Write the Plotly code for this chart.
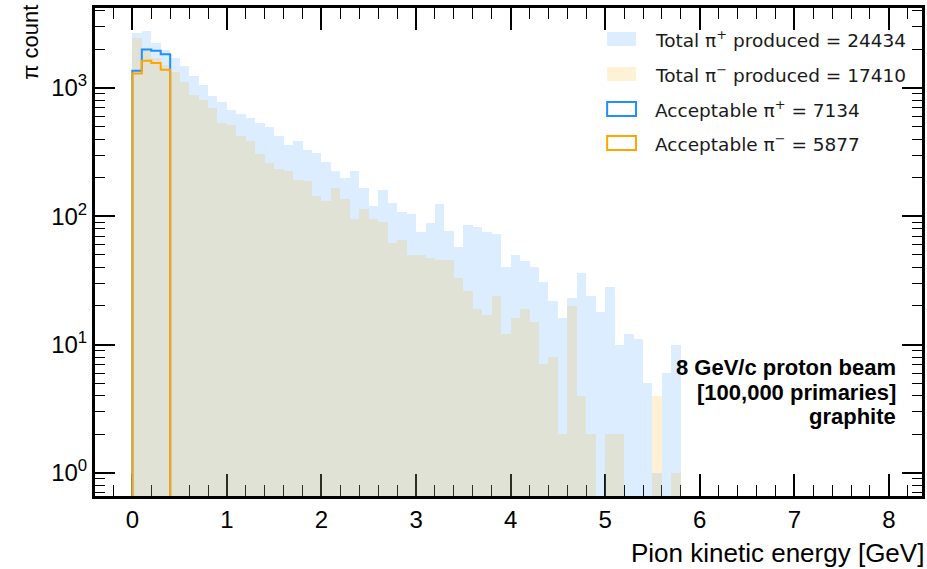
import numpy as np
import plotly.graph_objects as go

# ---- histogram contents (0.1 GeV bins starting at 0) ----
bin_width = 0.1

pip_total = [2672, 2790, 2232, 1984, 1717, 1477, 1250, 1058, 873, 777,
             679, 631, 585, 535, 494, 421, 360, 389, 327, 314,
             264, 227, 197, 227, 166, 121, 159, 127, 107, 105,
             76, 89, 125, 77, 58, 85, 83, 75, 73, 40,
             50, 45, 40, 31, 22, 16, 23, 36, 24, 18,
             28, 10, 12, 11, 5, 1, 6, 10]

pim_total = [2450, 2050, 1700, 1506, 1343, 1122, 889, 812, 704, 535,
             518, 421, 384, 303, 262, 232, 227, 193, 188, 143,
             131, 166, 137, 96, 113, 95, 91, 62, 65, 50,
             50, 47, 46, 46, 33, 26, 19, 17, 24, 12,
             16, 19, 15, 7, 8, 2, 20, 4, 2, 0,
             2, 2, 0, 0, 0, 4, 0, 1]

pip_accept = [1360, 1995, 1945, 1834]
pim_accept = [1297, 1630, 1563, 1387]

x_ticks = [0, 1, 2, 3, 4, 5, 6, 7, 8]
y_ticks = [1, 10, 100, 1000]
y_ticktext = ["10<sup>0</sup>", "10<sup>1</sup>", "10<sup>2</sup>", "10<sup>3</sup>"]

info_lines = ["8 GeV/c proton beam", "[100,000 primaries]", "graphite"]

# ---- styling ----
BLUE = "#1e90ff"
ORANGE = "#ffa500"
BLUE_FILL = "rgba(30,144,255,0.16)"
ORANGE_FILL = "rgba(255,165,0,0.16)"
TICK_FONT = "Liberation Sans Narrow, Liberation Sans"

W, H = 927, 569
ML, MR, MT, MB = 95, 2, 8, 73
PW, PH = W - ML - MR, H - MT - MB


def px(xp):
    return (xp - ML) / PW


def py(yp):
    return (H - MB - yp) / PH


def centers(n):
    return [round((i + 0.5) * bin_width, 3) for i in range(n)]


def nonzero(vals):
    return [v if v > 0 else None for v in vals]


def step_outline(vals):
    floor = 0.1
    xs = [0.0] + [round(i * bin_width, 3) for i in range(len(vals))] + [round(len(vals) * bin_width, 3)] * 2
    ys = [floor] + list(vals) + [vals[-1], floor]
    return xs, ys


fig = go.Figure()

fig.add_trace(go.Bar(x=centers(len(pip_total)), y=nonzero(pip_total), width=bin_width,
                     marker=dict(color=BLUE_FILL, line=dict(width=0)), showlegend=False))
fig.add_trace(go.Bar(x=centers(len(pim_total)), y=nonzero(pim_total), width=bin_width,
                     marker=dict(color=ORANGE_FILL, line=dict(width=0)), showlegend=False))

for vals, col in ((pip_accept, BLUE), (pim_accept, ORANGE)):
    sx, sy = step_outline(vals)
    fig.add_trace(go.Scatter(x=sx, y=sy, mode="lines", line=dict(shape="hv", color=col, width=2),
                             showlegend=False, hoverinfo="skip"))

# ---- hand-drawn legend box ----
legend_rows = [
    (f"Total π<sup>+</sup> produced = {sum(pip_total)}", "fill", BLUE_FILL, None),
    (f"Total π<sup>−</sup> produced = {sum(pim_total)}", "fill", ORANGE_FILL, None),
    (f"Acceptable π<sup>+</sup> = {sum(pip_accept)}", "line", "white", BLUE),
    (f"Acceptable π<sup>−</sup> = {sum(pim_accept)}", "line", "white", ORANGE),
]
row_y = [39, 74, 109, 143]
shapes = []
annotations = []
for (label, kind, fill, edge), yc in zip(legend_rows, row_y):
    shapes.append(dict(type="rect", xref="paper", yref="paper",
                       x0=px(609), x1=px(638), y0=py(yc + 7), y1=py(yc - 7),
                       fillcolor=fill,
                       line=dict(width=2 if kind == "line" else 0, color=edge or fill)))
    annotations.append(dict(xref="paper", yref="paper", x=px(655), y=py(yc), xanchor="left",
                            yanchor="middle", text=label, showarrow=False,
                            font=dict(family="DejaVu Sans", size=18.5, color="#1a1a1a")))

for line, yc in zip(info_lines, [368, 392, 416]):
    annotations.append(dict(xref="paper", yref="paper", x=px(901), y=py(yc), xanchor="right",
                            yanchor="middle", text=f"<b>{line}</b>", showarrow=False,
                            font=dict(family="Liberation Sans", size=22, color="black")))

annotations.append(dict(xref="paper", yref="paper", x=px(929), y=py(553), xanchor="right",
                        yanchor="middle", text="Pion kinetic energy [GeV]", showarrow=False,
                        font=dict(family=TICK_FONT, size=26, color="black")))
annotations.append(dict(xref="paper", yref="paper", x=px(30), y=py(3), xanchor="center",
                        yanchor="top", text="π count", textangle=-90, showarrow=False,
                        font=dict(family=TICK_FONT, size=22, color="black")))

axis_common = dict(showline=True, linewidth=3, linecolor="black", mirror="ticks",
                   ticks="inside", tickcolor="black", showgrid=False, zeroline=False,
                   layer="below traces")

fig.update_layout(
    width=W, height=H,
    margin=dict(l=ML, r=MR, t=MT, b=MB),
    paper_bgcolor="white", plot_bgcolor="white",
    barmode="overlay", bargap=0,
    shapes=shapes, annotations=annotations,
    xaxis=dict(range=[-0.395, 8.35], tickvals=x_ticks, ticklen=22, tickwidth=1.5,
               tickfont=dict(family=TICK_FONT, size=24, color="black"),
               minor=dict(ticks="inside", ticklen=11, tickwidth=1.2, tickcolor="black",
                          dtick=0.2, tick0=0), **axis_common),
    yaxis=dict(type="log", range=[-0.18, 3.623], tickvals=y_ticks, ticktext=y_ticktext,
               ticklen=20, tickwidth=1.5,
               tickfont=dict(family="Liberation Sans", size=24, color="black"),
               minor=dict(ticks="inside", ticklen=10, tickwidth=1.2, tickcolor="black",
                          tickvals=[m * 10 ** e for e in range(-1, 4) for m in range(2, 10)]),
               **axis_common),
)

fig.write_html("out.html")
